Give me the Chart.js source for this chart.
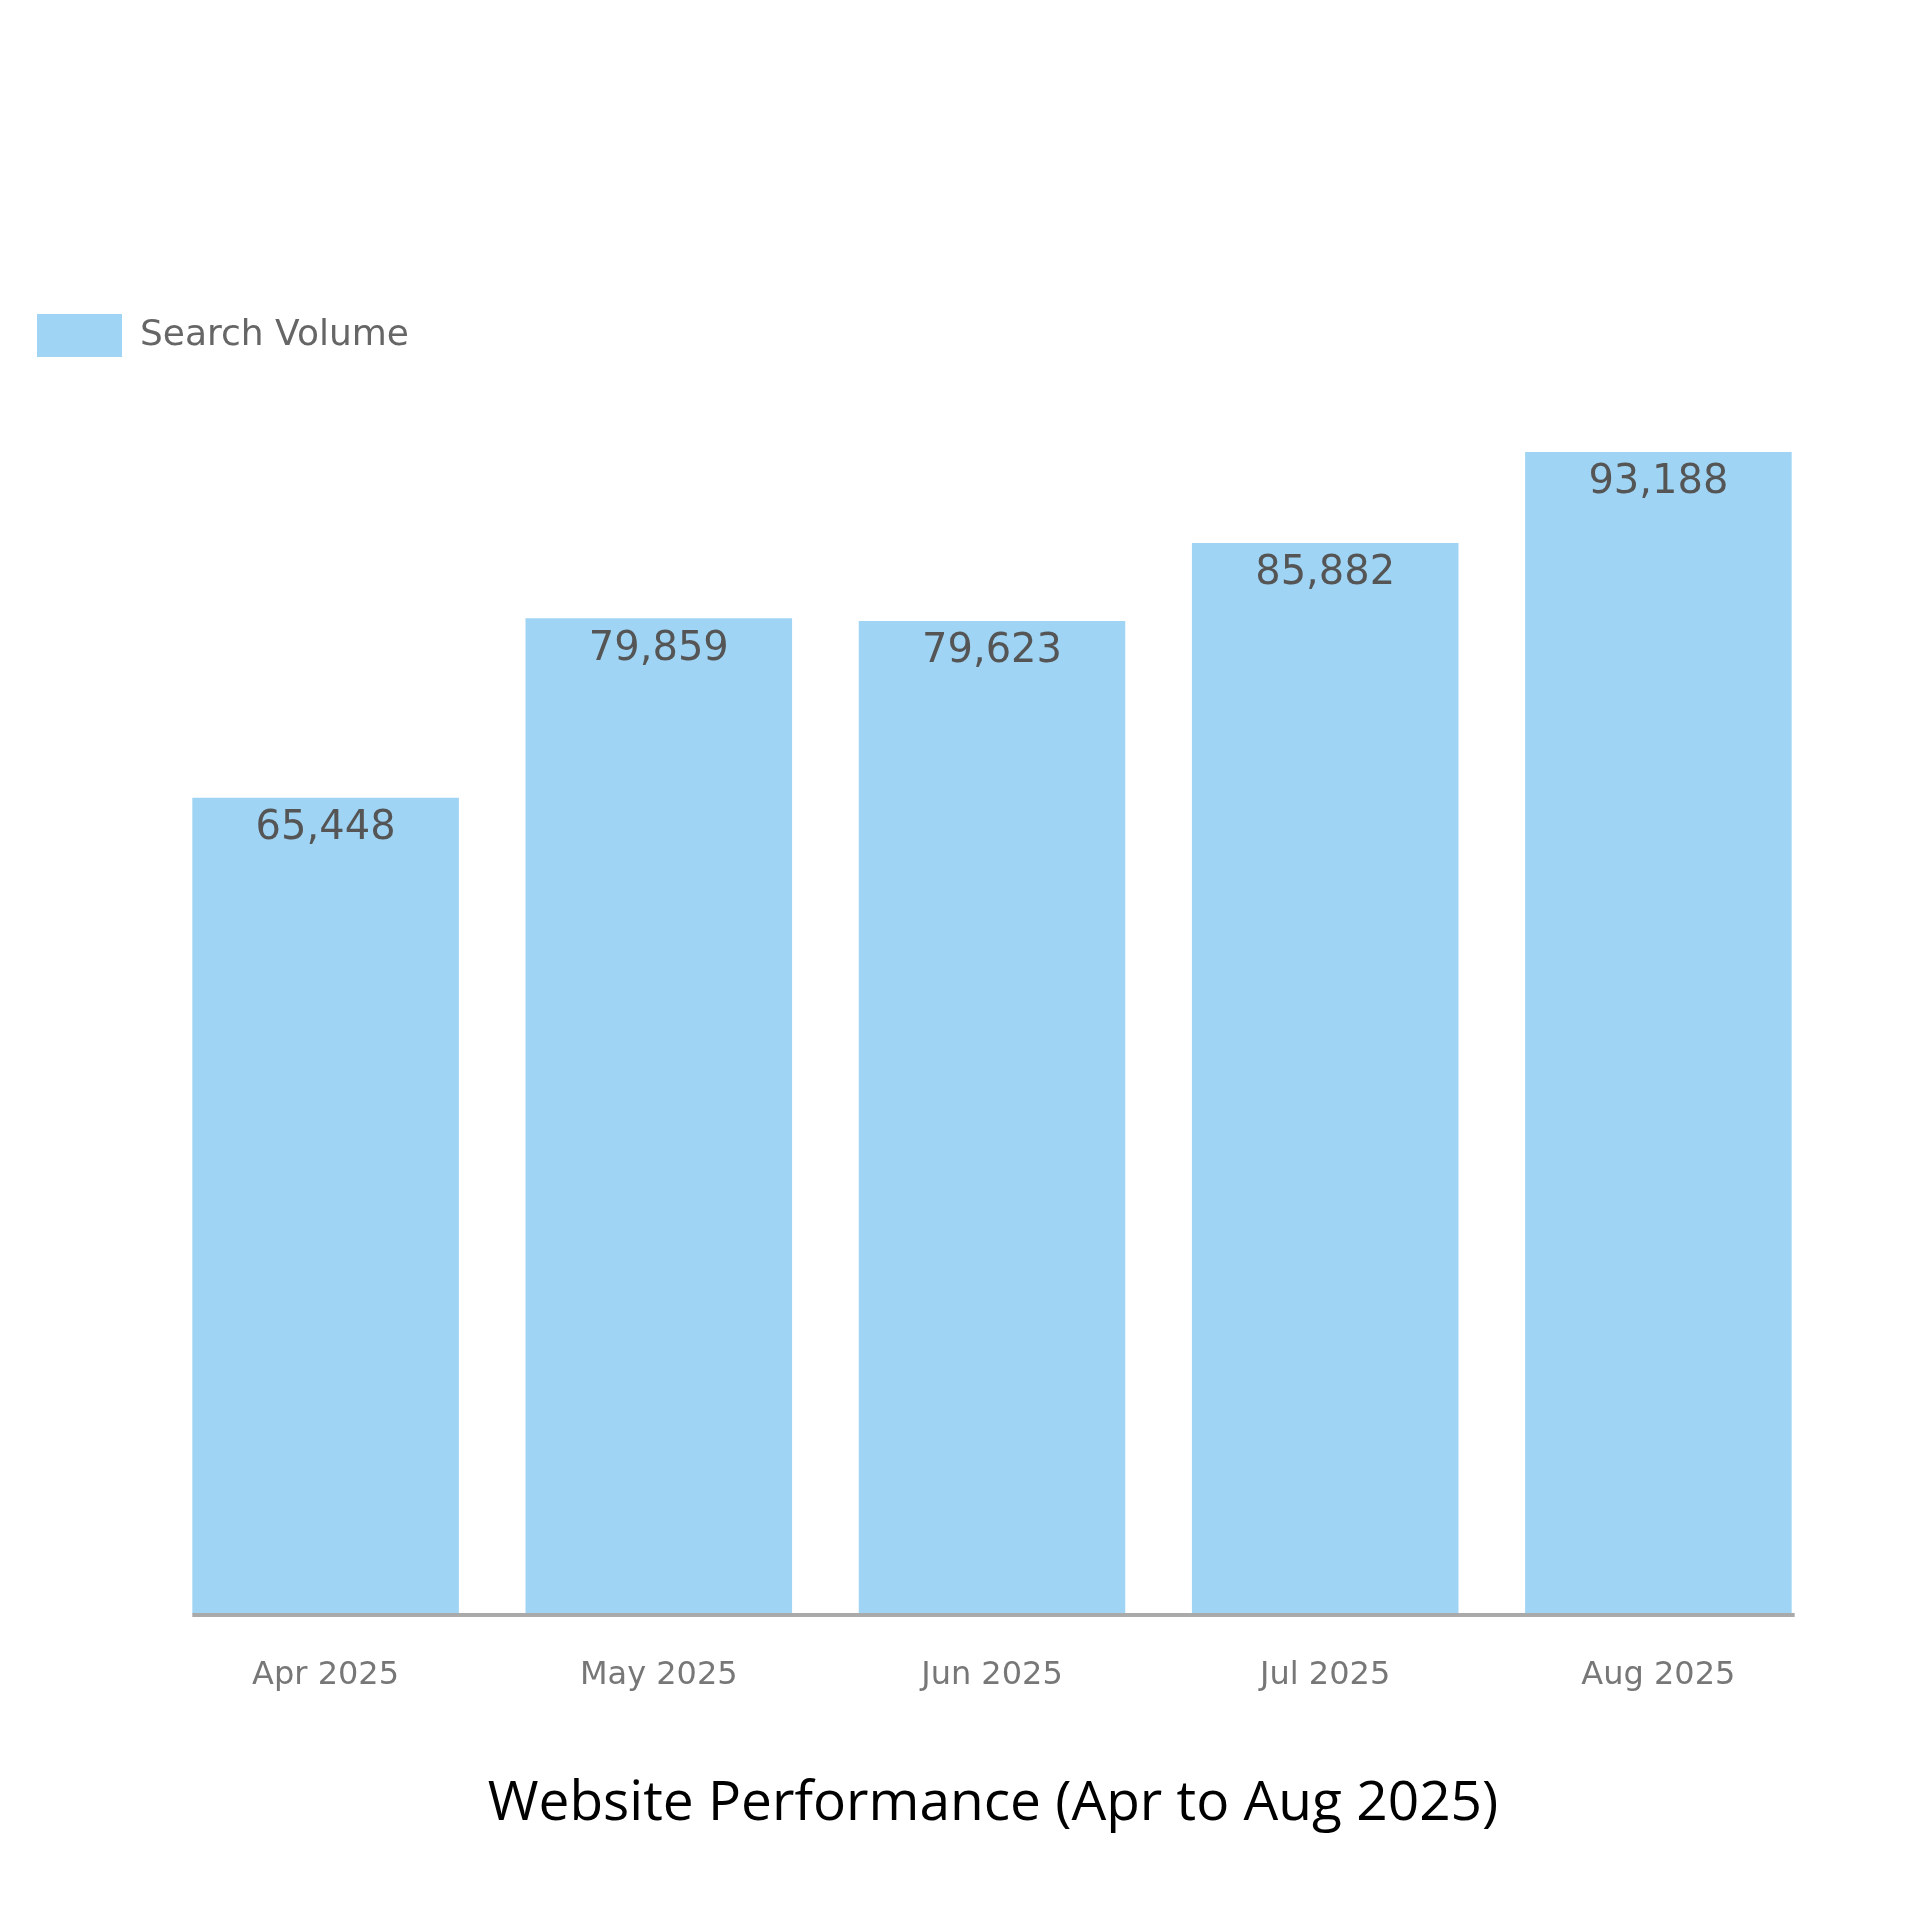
<!DOCTYPE html>
<html><head><meta charset="utf-8">
<script src="https://cdn.jsdelivr.net/npm/chart.js@4"></script>
<style>html,body{margin:0;padding:0;background:#fff}#w{width:1920px;height:1920px}</style>
</head><body><div id="w"><canvas id="c"></canvas></div>
<script>
const categories = ["Apr 2025","May 2025","Jun 2025","Jul 2025","Aug 2025"];
const searchVolume = [65448,79859,79623,85882,93188];
const seriesName = "Search Volume";
const chartTitle = "Website Performance (Apr to Aug 2025)";

const extras = {
  id:'extras',
  afterDatasetsDraw(chart){
    const ctx=chart.ctx, meta=chart.getDatasetMeta(0), a=chart.chartArea;
    ctx.save();
    // baseline from first bar's left edge to last bar's right edge
    const f=meta.data[0], l=meta.data[meta.data.length-1];
    ctx.strokeStyle='#aaa'; ctx.lineWidth=4;
    ctx.beginPath(); ctx.moveTo(f.x-f.width/2, a.bottom+1); ctx.lineTo(l.x+l.width/2+3, a.bottom+1); ctx.stroke();
    ctx.font='40px "DejaVu Sans"'; ctx.fillStyle='#555'; ctx.textAlign='center'; ctx.textBaseline='middle';
    meta.data.forEach((b,i)=>{ ctx.fillText(searchVolume[i].toLocaleString('en-US'), b.x, b.y+31); });
    ctx.font='55px "Open Sans"'; ctx.fillStyle='#000';
    ctx.fillText(chartTitle, 993, 1804);
    ctx.restore();
  }
};

new Chart(document.getElementById('c'),{
  type:'bar',
  data:{labels:categories,datasets:[{label:seriesName,data:searchVolume,backgroundColor:'#9fd4f4',
    categoryPercentage:1,barPercentage:0.80}]},
  options:{
    responsive:true,maintainAspectRatio:false,animation:false,
    layout:{padding:{left:37,right:95,top:314,bottom:0}},
    plugins:{
      legend:{position:'top',align:'start',labels:{boxWidth:85,boxHeight:43,color:'#666',font:{size:36,family:'DejaVu Sans'},padding:0}},
      title:{display:false},
      tooltip:{enabled:false}
    },
    scales:{
      x:{grid:{display:false},border:{display:false},
        ticks:{color:'#777',font:{size:32,family:'DejaVu Sans'},padding:34},
        afterFit(s){s.height=306;}},
      y:{min:0,max:100000,grid:{display:false},border:{display:false},ticks:{display:false},
        afterFit(s){s.width=122;}}
    }
  },
  plugins:[extras]
});
</script></body></html>
